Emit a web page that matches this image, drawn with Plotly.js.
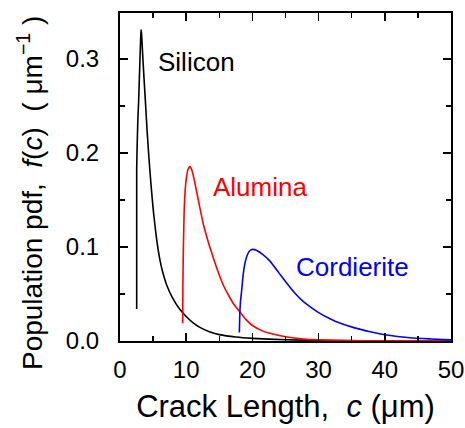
<!DOCTYPE html>
<html><head><meta charset="utf-8">
<script src="https://cdn.plot.ly/plotly-3.0.1.min.js"></script>
<style>html,body{margin:0;padding:0;background:#fff}#chart{width:465px;height:428px}</style>
</head><body><div id="chart"></div>
<script>
const siliconC = [2.52,2.52,2.6,2.7,2.82,2.92,3.02,3.1,3.17,3.25,3.35,3.47,3.63,3.83,4.1,4.4,4.7,5.03,5.5,6.04,6.5,7.05,8.0,9.0,10,11,12,13.5,15,17.5,20,25,30,35,40,50];
const siliconF = [0.034,0.182,0.21,0.236,0.256,0.279,0.3,0.318,0.331,0.327,0.315,0.299,0.279,0.256,0.223,0.192,0.165,0.139,0.11,0.086,0.072,0.0596,0.045,0.034,0.026,0.0195,0.0148,0.0098,0.0068,0.0042,0.0028,0.0013,0.0006,0.0003,0.0002,0.0001];
const aluminaC = [9.47,9.5,9.57,9.7,9.82,10.0,10.25,10.57,10.85,11.2,11.83,12.6,13.7,14.8,15.7,16.6,17.3,18.1,19,20,21.6,22.66,25,27.7,30,35,40,50];
const aluminaF = [0.019,0.06,0.097,0.14,0.158,0.172,0.182,0.1855,0.182,0.172,0.15,0.124,0.097,0.074,0.058,0.046,0.038,0.031,0.023,0.0165,0.0105,0.0082,0.0045,0.002,0.0012,0.0005,0.0002,0.0001];
const cordC = [18.03,18.1,18.2,18.38,18.6,18.88,19.2,19.6,20.04,20.6,21.5,22.66,24,25.2,26.4,27.7,29,30.2,31.5,32.7,35.2,37.8,40.3,43.8,47,50];
const cordF = [0.009,0.03,0.042,0.054,0.07,0.083,0.091,0.096,0.0975,0.0965,0.0925,0.085,0.0725,0.0614,0.051,0.0418,0.035,0.0294,0.0245,0.0205,0.0145,0.0099,0.0064,0.0035,0.0022,0.0012];
const labels = ['Silicon','Alumina','Cordierite'];
const colors = ['#000000','#ff0000','#0000ff'];
const xTitle = 'Crack Length,  <i>c</i> (μm)';
const yTitle = 'Population pdf,  <i>f</i>(<i>c</i>)  ( μm<sup>−1</sup> )';

const font = 'Liberation Sans, Arial, sans-serif';
const traces = [
  {x: siliconC, y: siliconF, name: labels[0]},
  {x: aluminaC, y: aluminaF, name: labels[1]},
  {x: cordC, y: cordF, name: labels[2]}
].map((t,i)=>Object.assign(t,{type:'scatter',mode:'lines',line:{color:colors[i],width:1.6,shape:'spline',smoothing:0.4},hoverinfo:'none'}));

const axisCommon = {showline:true, linecolor:'#000', linewidth:2, mirror:'ticks', ticks:'inside', ticklen:8, tickwidth:1.5, tickcolor:'#000', showgrid:false, zeroline:false, tickfont:{family:font,size:24,color:'#000'}};

const layout = {
  width:465, height:428, margin:{l:120,r:14,t:13,b:87},
  paper_bgcolor:'#fff', plot_bgcolor:'#fff', showlegend:false,
  xaxis: Object.assign({}, axisCommon, {range:[0,50], dtick:10, tick0:0, ticklabelstandoff:6,
    minor:{dtick:5, ticks:'inside', ticklen:5, tickwidth:1.5, tickcolor:'#000'},
    title:{text:xTitle, font:{family:font,size:31,color:'#000'}, standoff:14}}),
  yaxis: Object.assign({}, axisCommon, {range:[0,0.349], dtick:0.1, tick0:0, tickformat:'.1f', ticklabelstandoff:14,
    minor:{dtick:0.05, ticks:'inside', ticklen:5, tickwidth:1.5, tickcolor:'#000'}}),
  annotations: [
    {x:5.5, y:0.297, text:labels[0]},
    {x:13.8, y:0.164, text:labels[1]},
    {x:26.3, y:0.079, text:labels[2]}
  ].map((a,i)=>Object.assign(a,{xref:'x',yref:'y',xanchor:'left',yanchor:'middle',showarrow:false,font:{family:font,size:26,color:colors[i]}}))
  .concat([{xref:'paper',yref:'paper',x:-0.272,y:0.451,xanchor:'center',yanchor:'middle',textangle:-90,showarrow:false,text:yTitle,font:{family:font,size:28,color:'#000'}}])
};
Plotly.newPlot('chart', traces, layout, {staticPlot:true, displayModeBar:false});
</script></body></html>
